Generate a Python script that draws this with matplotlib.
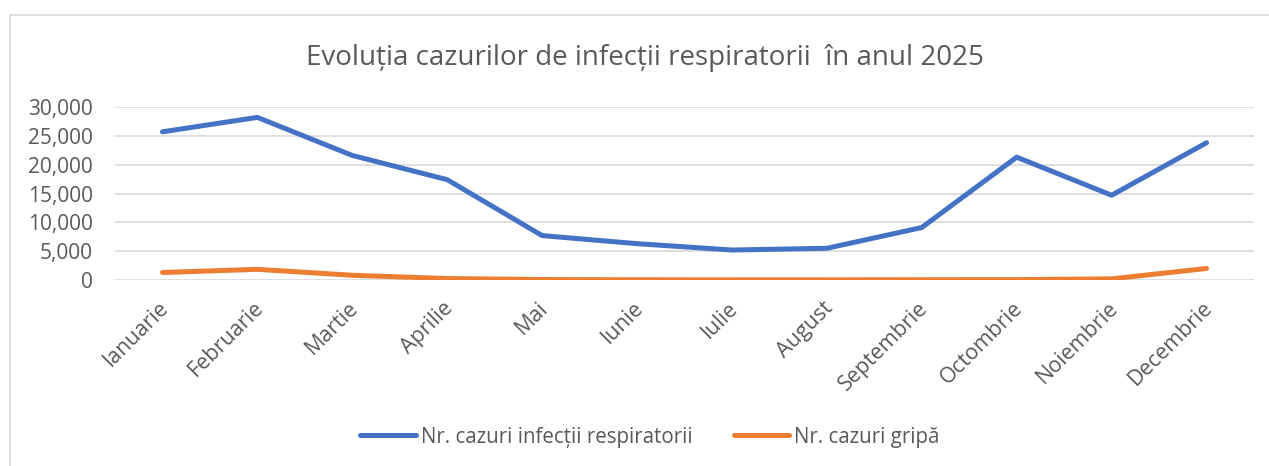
import matplotlib
matplotlib.use("Agg")
import matplotlib.pyplot as plt
from matplotlib.lines import Line2D
import matplotlib.transforms as mtransforms

# Date lunare
luni = ["Ianuarie", "Februarie", "Martie", "Aprilie", "Mai", "Iunie", "Iulie",
        "August", "Septembrie", "Octombrie", "Noiembrie", "Decembrie"]
infectii_respiratorii = [25700, 28200, 21600, 17400, 7700, 6300, 5200, 5500,
                         9100, 21300, 14700, 23800]
gripa = [1300, 1850, 820, 250, 80, 40, 30, 30, 50, 60, 200, 2000]

titlu = "Evoluția cazurilor de infecții respiratorii  în anul 2025"
eticheta_resp = "Nr. cazuri infecții respiratorii"
eticheta_gripa = "Nr. cazuri gripă"

albastru = "#4472C4"
portocaliu = "#ED7D31"
gri_text = "#595959"
gri_linii = "#D9D9D9"

plt.rcParams["font.family"] = ["Open Sans", "DejaVu Sans"]

W, H = 1269, 466
fig = plt.figure(figsize=(W / 100, H / 100), dpi=100)
ax = fig.add_axes([115 / W, 1 - 280 / H, (1254 - 115) / W, (280 - 107) / H])

x = list(range(len(luni)))
ax.plot(x, infectii_respiratorii, color=albastru, lw=3.6,
        solid_capstyle="round", solid_joinstyle="round", label=eticheta_resp)
ax.plot(x, gripa, color=portocaliu, lw=3.6,
        solid_capstyle="round", solid_joinstyle="round", label=eticheta_gripa)

ax.set_xlim(-0.5, len(luni) - 0.5)
ax.set_ylim(0, 30000)
ax.set_yticks(range(0, 30001, 5000))
ax.set_yticklabels([f"{v:,}" for v in range(0, 30001, 5000)])
ax.grid(axis="y", color=gri_linii, lw=1.2)
ax.set_axisbelow(True)
for s in ax.spines.values():
    s.set_visible(False)
ax.tick_params(axis="both", length=0, colors=gri_text, labelsize=15)
ax.tick_params(axis="y", pad=16)

ax.set_xticks(x)
ax.set_xticklabels(luni, rotation=45, ha="right", va="center",
                   rotation_mode="anchor", fontsize=15.5)
ax.tick_params(axis="x", pad=18)
offset = mtransforms.ScaledTranslation(3 / 100, 0, fig.dpi_scale_trans)
for lbl in ax.get_xticklabels():
    lbl.set_transform(lbl.get_transform() + offset)

fig.text(645 / W, 1 - 65 / H, titlu, ha="center", va="baseline",
         fontsize=20, color=gri_text)

leg = fig.legend(loc="center", bbox_to_anchor=(650 / W, 1 - 437 / H), ncol=2,
                 frameon=False, fontsize=14.8, handlelength=2.7,
                 handletextpad=0.25, columnspacing=2.0, labelcolor=gri_text)

# chenarul graficului
fig.add_artist(Line2D([10 / W, 1], [1 - 15 / H, 1 - 15 / H],
                      transform=fig.transFigure, color=gri_linii, lw=1.2))
fig.add_artist(Line2D([10 / W, 10 / W], [0, 1 - 15 / H],
                      transform=fig.transFigure, color=gri_linii, lw=1.2))

fig.savefig("out.png", dpi=100)
